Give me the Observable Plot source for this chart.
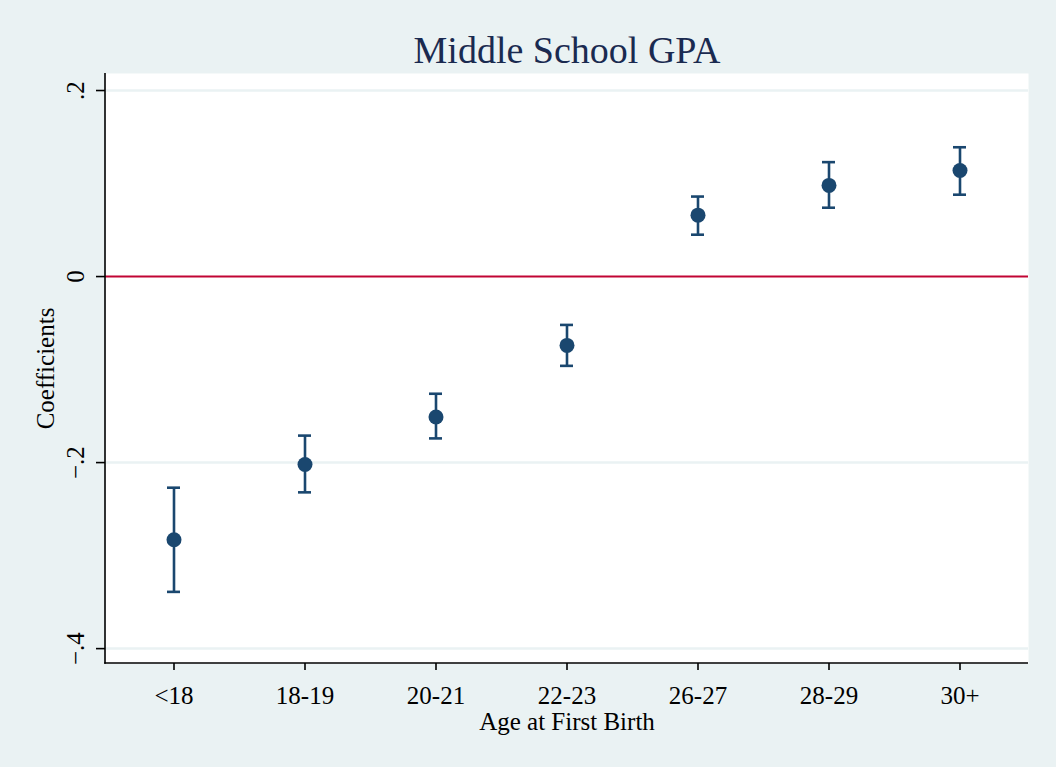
<!DOCTYPE html>
<html>
<head>
<meta charset="utf-8">
<script src="https://cdn.jsdelivr.net/npm/d3@7"></script>
<script src="https://cdn.jsdelivr.net/npm/@observablehq/plot@0.6"></script>
<style>
  html, body { margin: 0; padding: 0; background: #EAF2F3; }
  #chart svg { display: block; }
</style>
</head>
<body>
<div id="chart"></div>
<script>
const categories = ["<18", "18-19", "20-21", "22-23", "26-27", "28-29", "30+"];
const coef  = [-0.283, -0.202, -0.151, -0.074, 0.066, 0.098, 0.114];
const lower = [-0.339, -0.232, -0.174, -0.096, 0.045, 0.074, 0.088];
const upper = [-0.227, -0.171, -0.126, -0.052, 0.086, 0.123, 0.139];
const yTicks = [-0.4, -0.2, 0, 0.2];
const gridTicks = [-0.4, -0.2, 0.2];

const data = categories.map((c, i) => ({cat: c, b: coef[i], lo: lower[i], hi: upper[i]}));
const fmt = d => d === 0 ? "0" : d3.format(".1f")(d).replace("0.", ".");

const navy = "#1a476f";
const axisLines = (index, scales, values, dims) => {
  const g = d3.create("svg:g");
  const x0 = dims.marginLeft, y0 = dims.marginTop;
  const x1 = dims.width - dims.marginRight, y1 = dims.height - dims.marginBottom;
  g.append("line").attr("x1", x0).attr("x2", x0).attr("y1", y0).attr("y2", y1 + 0.75)
    .attr("stroke", "black").attr("stroke-width", 1.6);
  g.append("line").attr("x1", x0 - 0.75).attr("x2", x1).attr("y1", y1).attr("y2", y1)
    .attr("stroke", "black").attr("stroke-width", 1.6);
  return g.node();
};

const plot = Plot.plot({
  width: 1056,
  height: 767,
  marginLeft: 105,
  marginRight: 28,
  marginTop: 73,
  marginBottom: 104,
  style: {background: "#EAF2F3", fontFamily: "'Liberation Serif', 'Times New Roman', serif", fontSize: "25px", color: "black"},
  x: {type: "band", domain: categories, padding: 0, label: null},
  y: {domain: [-0.416, 0.2183], label: null},
  marks: [
    Plot.frame({fill: "white", stroke: null}),
    Plot.ruleY(gridTicks, {stroke: "#EAF2F3", strokeWidth: 2.5}),
    Plot.ruleY([0], {stroke: "#C10534", strokeWidth: 2}),
    Plot.axisX({tickSize: 7, tickPadding: 16, strokeWidth: 1.6, label: null}),
    Plot.axisY({ticks: yTicks, tickSize: 9, tickFormat: () => "", strokeWidth: 1.6, label: null}),
    Plot.text(yTicks, {y: d => d, text: fmt, frameAnchor: "left", rotate: -90, dx: -22, lineAnchor: "bottom", textAnchor: "middle", fontSize: 25, fill: "black"}),
    Plot.text(["Coefficients"], {frameAnchor: "left", rotate: -90, dx: -52, lineAnchor: "bottom", textAnchor: "middle", fontSize: 25, fill: "black"}),
    Plot.text(["Age at First Birth"], {frameAnchor: "bottom", dy: 66, lineAnchor: "bottom", textAnchor: "middle", fontSize: 25, fill: "black"}),
    Plot.text(["Middle School GPA"], {frameAnchor: "top", dy: -11, lineAnchor: "bottom", textAnchor: "middle", fontSize: 38, fill: "#1a2a50"}),
    Plot.ruleX(data, {x: "cat", y1: "lo", y2: "hi", stroke: navy, strokeWidth: 2.6}),
    Plot.tickY(data, {x: "cat", y: "lo", stroke: navy, strokeWidth: 2.6, insetLeft: 59, insetRight: 59}),
    Plot.tickY(data, {x: "cat", y: "hi", stroke: navy, strokeWidth: 2.6, insetLeft: 59, insetRight: 59}),
    Plot.dot(data, {x: "cat", y: "b", r: 7.5, fill: navy, stroke: null}),
    axisLines
  ]
});
document.getElementById("chart").appendChild(plot);
</script>
</body>
</html>
